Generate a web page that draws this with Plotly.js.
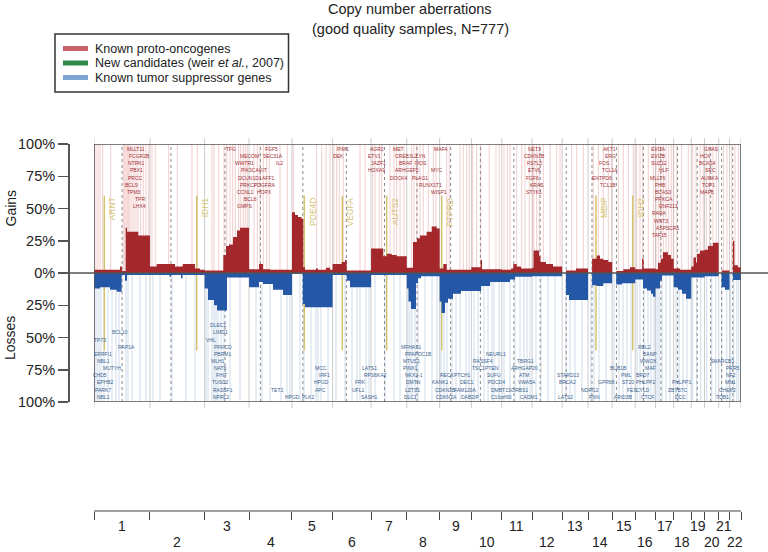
<!DOCTYPE html>
<html><head><meta charset="utf-8">
<script src="https://cdn.plot.ly/plotly-3.0.1.min.js"></script>
<style>html,body{margin:0;padding:0;background:#fff}#chart{width:768px;height:552px}</style>
</head><body><div id="chart"></div>
<script>
// ---------------- DATA ----------------
const chromNames = ['1','2','3','4','5','6','7','8','9','10','11','12','13','14','15','16','17','18','19','20','21','22'];
const chromLengths = [249.25,243.20,198.02,191.15,180.92,171.12,159.14,146.36,141.21,135.53,135.01,133.85,115.17,107.35,102.53,90.35,81.20,78.08,59.13,63.03,48.13,51.30];
const centromeres = [125.0,93.3,91.0,50.4,48.4,61.0,59.9,45.6,49.0,40.2,53.7,35.8,17.9,17.6,19.0,36.6,24.0,17.2,26.5,27.5,13.2,14.7];

// gains: segment starts (genome Mb) and % of samples
const gainStart = [0,115.8,124.7,141.2,147.0,197.3, 249.25,279.2,360.7,395.0,449.8,472.0, 492.45,575.8,587.8,601.2,619.0,636.8,650.1, 690.47,734.7,752.5,783.7, 881.62,894.9,908.3,923.9,931.9,939.5,988.6,997.5,1033.1,1050.9, 1062.54,1103.0,1117.7,1125.3, 1233.66,1288.2,1303.4,1325.7,1348.0, 1392.8,1420.5,1438.3,1451.7,1481.5,1503.8,1526.0, 1539.16,1555.4,1570.6, 1680.37,1721.9,1727.8, 1815.9,1857.4,1867.2,1882.3,1901.4, 1950.91,1957.1,1981.6,1988.3,2012.8,2044.0, 2084.76,2101.7,2146.2, 2199.93,2217.9,2238.5,2253.1,2267.9,2290.2, 2307.28,2325.4,2357.0,2386.8, 2409.81,2440.7,2447.4, 2500.16,2511.2,2524.5,2533.4,2555.7,2569.1, 2581.36,2609.9, 2659.44,2669.6,2680.7,2685.2,2698.5, 2718.57,2733.6,2755.9, 2781.6,2794.8, 2829.73,2844.7,2851.4,2867.0];
const gainPct = [2.5,5,1.5,35,32,29, 5,7,5,7,3.5,2.5, 2,14,21,22,28,33,35, 3,7,3,2.5, 47,45,43.5,42,4.5,2.5,3.5,2.5,4,2.5, 7,8.5,10,2, 19,13,15,14,13, 4,24,27,29,32,36,34.5, 3.5,7,2.5, 4.5,10,3, 2.5,3.5,7,5,3.5, 4,17.5,13,8.5,7,5, 0,2,3.5, 0,11,13.5,11,10,8.5, 0,1.5,3,4.5, 3,11,3.5, 3,8,11,16,14,11, 3.5,2.5, 5,12,8,15,17.5, 18,21,23.5, 0,2, 0,25,6,4.5];

// losses: segment starts (genome Mb) and % of samples
const lossStart = [0,26.7,71.2,101.1,123.3,138.0,146.9, 249.25,336.2,342.9,387.4,394.1, 492.45,507.7,534.4,547.8,592.3, 690.47,734.7,752.5,797.0,841.6, 881.62,929.3,939.5, 1062.54,1125.3,1140.0, 1233.66, 1392.8,1400.4,1411.6,1433.8,1442.7,1456.1, 1539.16,1547.4,1563.0,1576.4,1598.6,1634.3, 1680.37,1723.9,1764.0, 1815.9,1852.4,1874.7, 1950.91, 2084.76,2101.7,2115.1, 2199.93,2217.9,2238.5,2267.9, 2307.28,2325.4,2351.2, 2409.81,2444.7,2462.5,2480.3,2489.2, 2500.16,2520.2,2529.1, 2581.36,2600.5,2618.3,2636.1, 2659.44, 2718.57, 2781.6,2794.8,2809.5, 2829.73,2844.7];
const lossPct = [12,11,13,14.5,1.5,6,1.5, 1.5,3,1.5,4,1.5, 12,21,25,29,3.5, 11,7,8.5,13,17, 0.5,24,26.5, 1.5,6,11, 1.5, 12,22,28,8,4,2.5, 22,31,23,20,16,14, 14,10,7, 7,5,3, 2.5, 0,17,21, 0,9.5,10,8, 0,9,8, 5,12,13.5,16,18.5, 12,6,2, 11,13,16,20, 3.5, 2.5, 0,11,13, 0,5.5];

// gene positions (genome Mb)
const oncogenePos = [8.9,17.8,26.7,38.7,74.4,130.5,136.7,142.5,148.3,154.5,160.3,169.2,178.1,187.0,195.9,207.9,219.5,231.5,243.6, 258.3,272.9,332.6,370.9,436.3,459.9, 525.5,534.3,555.3,578.9,590.9,605.6,617.6,629.2,644.3,653.3,664.8,673.7,682.6, 712.5,727.2,739.2,753.9,769.0,780.6,828.2,860.8, 887.5,991.7,1014.0,1033.1,1050.9, 1068.7,1080.7,1092.3,1110.1,1184.5,1206.8, 1241.1,1251.3,1270.5,1281.1,1318.1,1335.9,1347.9,1362.6,1380.4, 1414.7,1425.0,1437.0,1451.7,1466.4,1488.7,1510.9,1522.9, 1570.6,1582.2,1629.8,1644.5,1659.6,1671.2, 1686.3,1704.1,1721.9,1760.2,1790.1,1804.8, 1825.7,1840.4,1852.4,1882.3,1904.5,1919.2,1938.4, 1953.5,1959.3,1971.3,1982.9,2000.7,2030.5,2060.4,2075.1, 2127.2,2149.5,2178.9, 2223.4,2245.7,2267.9,2290.2,2305.3, 2334.7,2357.0,2379.3,2401.5, 2416.6,2431.3,2443.4,2468.3,2490.6, 2502.6,2512.9,2523.5,2535.1,2547.1,2559.1,2570.7,2579.6, 2594.7,2617.0,2646.4, 2666.0,2680.7,2698.5,2713.2, 2726.3,2741.0,2756.1,2770.8, 2803.3,2818.4, 2839.7,2854.4,2869.1];
const suppressorPos = [4.5,13.4,22.3,31.2,44.5,62.3,80.2,98.0,111.3,142.5,151.4,169.2,204.8,231.6, 262.7,293.9,347.3,409.7,449.8, 498.8,507.7,525.5,534.4,543.3,552.2,565.5,578.9,605.6,650.1, 721.4,748.1,783.7,832.7,859.4,872.8, 917.3,935.1,966.3,988.6,997.5,1010.8,1042.0, 1077.6,1117.7,1148.8,1171.1,1184.5,1211.2,1224.6, 1251.3,1295.8,1335.9,1362.6, 1398.2,1407.1,1416.0,1429.4,1442.7,1473.9,1505.1,1527.3, 1545.1,1558.5,1571.8,1594.1,1611.9,1629.7,1656.4,1669.8, 1692.1,1709.9,1736.6,1754.5,1772.3,1781.2,1803.5, 1825.7,1852.4,1874.7,1897.0,1914.8,1928.1,1941.5, 1968.1,1990.4,2021.6,2052.7, 2101.7,2119.5,2141.8,2173.0, 2213.1,2226.5,2248.8,2279.9, 2315.5,2337.8,2355.6,2373.5,2391.3, 2418.0,2431.3,2449.2,2467.0,2480.3,2493.7, 2507.1,2516.0,2529.3,2547.1,2565.0, 2591.7,2605.1,2622.9,2640.7, 2666.1,2683.9,2701.7, 2728.4,2750.7,2768.5, 2795.2,2817.5, 2835.3,2848.6,2862.0,2870.9];

// new candidates (chromosome, Mb)
const candidateNames = ['ARNT','IDH1','PDE4D','VEGFA','AUTS2','PTPRD','MBIP','IDH2'];
const candidateChrom = [1,2,5,6,7,9,14,15];
const candidatePos = [45.9,208.1,54.9,43.2,69.7,9.1,35.5,91.5];

// labelled genes (genome Mb of label, stacking row)
const gainGenes = ['MLLT11','FCGR2B','NTRK1','PBX1','PRCC','BCL9','TPM3','TPR','LHX4','TFG','MECOM','WWTR1','PIK3CA','DCUN1D1','PRKCI','CCNL1','BCL6','GMPS','FGF5','SEC31A','IL2','KIT','AFF1','PDGFRA','HOPX','PIM1','DEK','AGR2','ETV1','JAZF1','HOXA9','MET','CREB3L2','LYN','BRAF','ARHGEF5','DOCK4','MOS','PLAG1','MYC','RUNX1T1','WISP1','MAFA','NET1','CDKN1B','FSTL3','ETV6','FGF6','KRAS','STYK1','AKT1','ERG','FOS','TCL1A','ENTPD6','TCL1B','EVI2A','EVI2B','SUZ12','HLF','MLLT6','PHB','BCAS3','PRKCA','RNF213','RARA','WNT3','ASPSCR1','TAF15','GNAS','HCK','BCAS4','SRC','AURKA','TOP1','MAFB'];
const gainGenePos = [185.7,201.7,187.0,187.0,184.8,167.9,180.3,204.8,204.8, 610.1,690.2,670.2,694.7,694.5,685.5,674.6,694.7,670.2, 788.2,798.4,823.8,750.3,776.0,762.5,757.0, 1108.8,1089.6, 1260.2,1249.1,1264.7,1258.9,1355.0,1389.3,1456.1,1384.9,1393.8,1356.8,1453.9,1449.5,1526.0,1498.4,1536.3,1543.9, 1961.5,1959.3,1959.3,1959.3,1950.4,1972.7,1959.3, 2296.4,2297.7,2271.0,2296.4,2260.8,2286.6, 2512.8,2512.8,2514.6,2536.9,2507.0,2523.5,2536.9,2538.2,2557.4,2519.1,2523.9,2555.1,2516.8, 2750.6,2723.0,2731.9,2744.4,2741.7,2735.5,2731.9];
const gainGeneRow = [0,1,2,3,4,5,6,7,8, 0,1,2,3,4,5,6,7,8, 0,1,2,3,4,5,6, 0,1, 0,1,2,3,0,1,1,2,3,4,2,4,3,5,6,0, 0,1,2,3,4,5,6, 0,1,2,3,4,5, 0,1,2,3,4,5,6,7,8,9,10,11,12, 0,1,2,3,4,5,6];

const lossGenes = ['TP73','BCL10','RAP1A','ERRFI1','NBL1','MUTYH','CHD5','EPHB2','PARK7','NBL1', 'DLEC1','LIMD1','VHL','PRKCD','PBRM1','MLH1','NAT6','FHIT','TUSC2','RASSF1','NPRL2', 'TET2','HPGD','PLK2','MCC','IRF1','HPGD','APC', 'LATS1','RPS6KA2','FRK','UFL1','SASH1', 'MFHAS1','PPAPDC1B','MTUS1','PINX1','NKX3-1','DMTN','LZTS1','DLC1', 'RECK','PTCH1','KANK1','CDKN2B','FAM120A','CDKN2A','DAB2IP','DEC1','TSC1', 'RASSF4','NEURL1','PTEN','SUFU','PDCD4','DMBT1','C10orf90','SORBS1', 'TBRG1','ARHGAP20','ATM','VWA5A','CADM1', 'STARD13','BRCA2','LATS2', 'NDRG2','PNN','GPR68', 'BUB1B','PML','ST20','FES','ARID3B', 'RBL2','BANP','WWOX','MAF','BRD7','PHLPP2','CYLD','CTCF', 'PHLPP1','ZBTB7C','DCC', 'SMARCB1','PRR5','NF2','MN1','CHEK2','TOB1'];
const lossGenePos = [26.7,115.8,142.5,40.1,44.5,78.8,26.7,52.5,37.9,44.5, 553.5,561.1,518.8,573.5,570.0,553.5,564.6,568.7,564.6,574.4,566.9, 813.6,886.1,952.1,1008.6,1025.1,1011.7,1006.4, 1225.5,1252.6,1188.9,1173.4,1225.5, 1411.6,1446.3,1414.7,1408.5,1425.8,1420.5,1418.3,1410.7, 1574.1,1638.7,1542.9,1565.0,1656.0,1567.5,1672.1,1659.6,1710.0, 1730.0,1787.9,1773.2,1782.1,1793.2,1805.0,1813.7,1892.0, 1922.8,1914.8,1915.7,1928.1,1938.0, 2108.5,2109.4,2099.6, 2208.7,2229.6,2283.1, 2333.4,2372.1,2375.7,2394.4,2359.2, 2450.0,2477.2,2470.5,2475.9,2444.7,2457.2,2446.0,2462.5, 2614.8,2601.9,2613.0, 2796.5,2845.5,2837.9,2835.7,2821.0,2798.7];
const lossGeneRow = [8,9,7,6,5,4,3,2,1,0, 10,9,8,7,6,5,4,3,2,1,0, 1,0,0,4,3,2,1, 4,3,2,1,0, 7,6,5,4,3,2,1,0, 3,3,2,1,1,0,0,2,4, 5,6,4,3,2,1,0,1, 5,4,3,2,0, 3,2,0, 1,0,2, 4,3,2,1,0, 7,6,5,4,3,2,1,0, 2,1,0, 5,4,3,2,1,0];

const yTickVals = [1,0.75,0.5,0.25,0,-0.25,-0.5,-0.75,-1];
const yTickText = ['100%','75%','50%','25%','0%','25%','50%','75%','100%'];
const legendLabels = ['Known proto-oncogenes','New candidates (weir <i>et al.</i>, 2007)','Known tumor suppressor genes'];

// ---------------- STYLE / BUILD ----------------
const W = 768, H = 552;
const px = v => v / W, py = v => 1 - v / H;
const FONT = 'Liberation Sans, Arial, Helvetica, sans-serif';
const RED = '#a3272b', BLUE = '#2458a6';
const PINK_LINE = 'rgba(226,145,145,0.45)', BLUE_LINE = 'rgba(150,180,215,0.48)';
const KHAKI = '#d2c36e';

const total = chromLengths.reduce((a, b) => a + b, 0);
const chromStart = []; let acc = 0;
chromLengths.forEach(l => { chromStart.push(acc); acc += l; });
const boundaries = chromStart.concat([total]);

function stepTrace(starts, pcts, sign, color) {
  const x = starts.concat([total]);
  const y = pcts.map(v => sign * v / 100); y.push(y[y.length - 1]);
  return { type: 'scatter', mode: 'lines', x, y, line: { shape: 'hv', width: 0, color },
           fill: 'tozeroy', fillcolor: color, hoverinfo: 'skip', showlegend: false };
}
const traces = [stepTrace(gainStart, gainPct, 1, RED), stepTrace(lossStart, lossPct, -1, BLUE)];

const shapes = [];
oncogenePos.forEach(p => shapes.push({ type: 'line', xref: 'x', yref: 'y', x0: p, x1: p, y0: 0, y1: 1, line: { color: PINK_LINE, width: 1 }, layer: 'below' }));
suppressorPos.forEach(p => shapes.push({ type: 'line', xref: 'x', yref: 'y', x0: p, x1: p, y0: -1, y1: 0, line: { color: BLUE_LINE, width: 1 }, layer: 'below' }));
boundaries.forEach(b => shapes.push({ type: 'line', xref: 'x', yref: 'paper', x0: b, x1: b, y0: py(408), y1: py(138), line: { color: '#cccccc', width: 1 }, layer: 'below' }));
centromeres.forEach((c, i) => shapes.push({ type: 'line', xref: 'x', yref: 'y', x0: chromStart[i] + c, x1: chromStart[i] + c, y0: -1, y1: 1, line: { color: '#8a8a8a', width: 1, dash: 'dot' }, layer: 'below' }));
candidateNames.forEach((n, i) => {
  const g = chromStart[candidateChrom[i] - 1] + candidatePos[i];
  shapes.push({ type: 'line', xref: 'x', yref: 'y', x0: g, x1: g, y0: -0.6, y1: 0.6, line: { color: KHAKI, width: 1.5 }, layer: 'below' });
});
shapes.push({ type: 'rect', xref: 'x', yref: 'y', x0: 0, x1: total, y0: -1, y1: 1, line: { color: '#555', width: 1.5 }, layer: 'above' });
shapes.push({ type: 'line', xref: 'paper', yref: 'y', x0: px(58), x1: 1, y0: 0, y1: 0, line: { color: '#555', width: 1.5 }, layer: 'above' });
// chromosome axis line
shapes.push({ type: 'line', xref: 'x', yref: 'paper', x0: 0, x1: total, y0: py(511), y1: py(511), line: { color: '#444', width: 1 } });
// legend frame and keys
shapes.push({ type: 'rect', xref: 'paper', yref: 'paper', x0: px(55), x1: px(288.5), y0: py(92), y1: py(34), line: { color: '#333', width: 1.5 }, fillcolor: '#fff' });
const legendColors = ['#c9606a', '#2f8a48', '#7ea5d4'];
const legendRowY = [48.5, 63, 77.5];
legendColors.forEach((c, i) => shapes.push({ type: 'line', xref: 'paper', yref: 'paper', x0: px(63), x1: px(88), y0: py(legendRowY[i]), y1: py(legendRowY[i]), line: { color: c, width: 5 } }));

const ann = [];
const T = (o) => Object.assign({ showarrow: false, xanchor: 'center', yanchor: 'middle' }, o);
ann.push(T({ xref: 'paper', yref: 'paper', x: px(410), y: py(8.5), text: 'Copy number aberrations', font: { size: 14.5, color: '#222' } }));
ann.push(T({ xref: 'paper', yref: 'paper', x: px(410), y: py(29.5), text: '(good quality samples, N=777)', font: { size: 14.5, color: '#222' } }));
ann.push(T({ xref: 'paper', yref: 'paper', x: px(10), y: py(208.5), text: 'Gains', textangle: -90, font: { size: 14, color: '#222' } }));
ann.push(T({ xref: 'paper', yref: 'paper', x: px(10), y: py(338), text: 'Losses', textangle: -90, font: { size: 14, color: '#222' } }));
legendLabels.forEach((t, i) => ann.push(T({ xref: 'paper', yref: 'paper', x: px(93), y: py(legendRowY[i]), xanchor: 'left', text: t, font: { size: 12.5, color: '#222' } })));
chromNames.forEach((n, i) => ann.push(T({ xref: 'x', yref: 'paper', x: chromStart[i] + chromLengths[i] / 2, y: py(i % 2 === 0 ? 526 : 542), text: n, font: { size: 14, color: '#222' } })));
candidateNames.forEach((n, i) => {
  const g = chromStart[candidateChrom[i] - 1] + candidatePos[i];
  ann.push(T({ xref: 'x', yref: 'y', x: g, y: 0.6, xanchor: 'left', yanchor: 'top', xshift: 1, textangle: -90, text: n, font: { size: 8.5, color: KHAKI } }));
});
const ROW = 0.0554;
gainGenes.forEach((n, i) => ann.push(T({ xref: 'x', yref: 'y', x: gainGenePos[i], y: 0.961 - gainGeneRow[i] * ROW, text: n, borderpad: 0, font: { size: 5, color: '#9e3035' } })));
lossGenes.forEach((n, i) => ann.push(T({ xref: 'x', yref: 'y', x: lossGenePos[i], y: -0.959 + lossGeneRow[i] * ROW, text: n, borderpad: 0, font: { size: 5, color: '#3c5f8e' } })));

const layout = {
  width: W, height: H, margin: { l: 0, r: 0, t: 0, b: 0 },
  paper_bgcolor: '#fff', plot_bgcolor: 'rgba(0,0,0,0)', showlegend: false,
  font: { family: FONT, size: 14, color: '#222' },
  xaxis: { domain: [px(94), px(741)], range: [0, total], anchor: 'free', position: py(511),
           showgrid: false, zeroline: false, showline: false,
           ticks: 'outside', ticklen: 8, tickwidth: 1, tickcolor: '#444',
           tickmode: 'array', tickvals: boundaries, showticklabels: false, fixedrange: true },
  yaxis: { domain: [py(402), py(144)], range: [-1, 1], anchor: 'free', position: px(68),
           showgrid: false, zeroline: false, showline: true, linecolor: '#555', linewidth: 1.5,
           ticks: 'outside', ticklen: 10, tickwidth: 1.5, tickcolor: '#555',
           tickmode: 'array', tickvals: yTickVals, ticktext: yTickText,
           tickfont: { size: 14.5, color: '#222' }, fixedrange: true },
  shapes, annotations: ann
};
Plotly.newPlot('chart', traces, layout, { displayModeBar: false, staticPlot: true });
</script></body></html>
